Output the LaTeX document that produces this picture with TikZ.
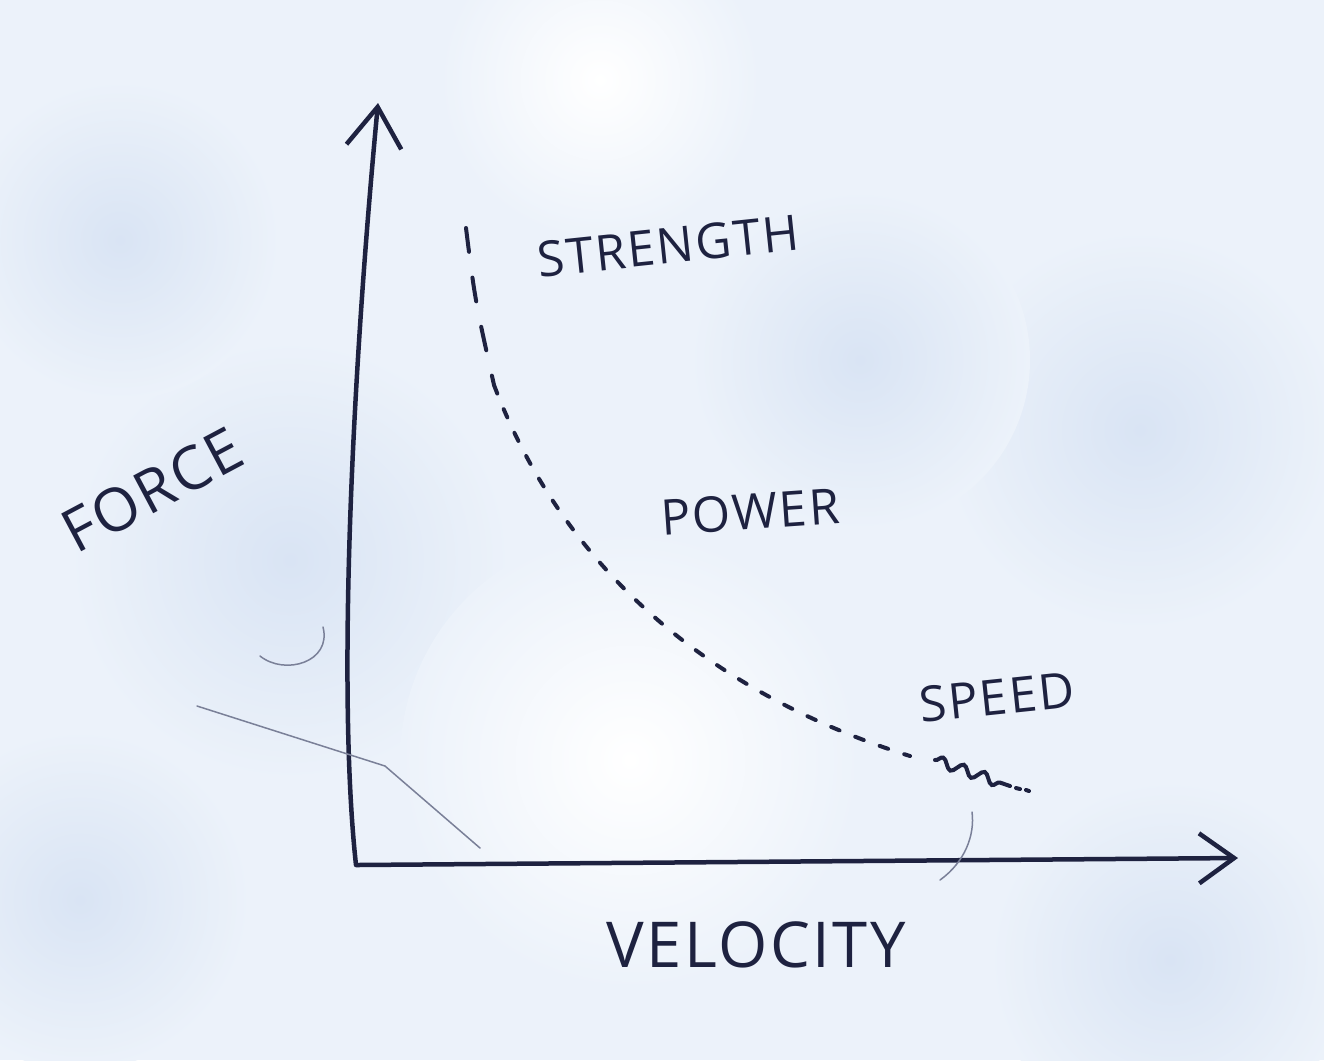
\documentclass[tikz,border=0pt]{standalone}
\usepackage{fontspec}
\newfontfamily\handfont[LetterSpace=4]{Open Sans}
\usetikzlibrary{arrows.meta, decorations.pathmorphing}
\definecolor{ink}{HTML}{1E2240}
\definecolor{paper}{HTML}{ECF2FA}
\definecolor{blotch}{HTML}{D9E4F4}
\definecolor{pencil}{HTML}{7A8098}
\tikzset{
  axis/.style={draw=ink, line width=0.45mm, line cap=round, line join=round},
  word/.style={text=ink, font=\handfont\fontsize{14}{14}\selectfont, inner sep=0pt},
  blot/.style={inner color=blotch, outer color=paper},
  faint/.style={draw=pencil, line width=0.15mm, line cap=round}
}

\begin{document}
\begin{tikzpicture}[x=0.1mm, y=-0.1mm]
\useasboundingbox (0,0) rectangle (1324,1060);
\fill[paper] (0,0) rectangle (1324,1060);
% mottled paper
\shade[blot] (290,560) circle (220);
\shade[blot] (120,240) circle (160);
\shade[blot] (1140,430) circle (200);
\shade[blot] (860,360) circle (170);
\shade[blot] (1170,960) circle (180);
\shade[blot] (80,900) circle (170);
\shade[inner color=white, outer color=paper] (630,760) circle (230);
\shade[inner color=white, outer color=paper] (600,80) circle (160);

% axes
\coordinate (ytop) at (378,103);
\coordinate (origin) at (356,865);
\coordinate (xend) at (1238,858);
\draw[axis, {Straight Barb[length=4mm, width=5.5mm, line width=0.45mm]}-{Straight Barb[length=3.5mm, width=5mm, line width=0.45mm]}]
  (ytop) .. controls (350,400) and (338,700) .. (origin) -- (xend);

% force-velocity curve
\coordinate (c0) at (466,228);
\coordinate (c1) at (494,385);
\coordinate (c2) at (910,756);
\draw[ink, line width=0.4mm, line cap=round, dash pattern=on 2.4mm off 2.6mm]
  (c0) .. controls (475,300) .. (c1);
\draw[ink, line width=0.4mm, line cap=round, dash pattern=on 0.9mm off 1.7mm]
  (c1) .. controls (560,560) and (700,690) .. (c2);
\draw[ink, line width=0.4mm, line cap=round,
      decorate, decoration={snake, amplitude=0.5mm, segment length=2.2mm}]
  (935,760) -- (1010,786);
\draw[ink, line width=0.4mm, line cap=round] (1016,788) -- (1020,789) (1026,790) -- (1029,791);

% labels
\node[word, rotate=6] (strength) at (668,246) {STRENGTH};
\node[word, rotate=28, font=\handfont\fontsize{17}{17}\selectfont] (force) at (152,490) {FORCE};
\node[word, rotate=4] (power) at (750,512) {POWER};
\node[word, rotate=6] (speed) at (997,697) {SPEED};
\node[word, font=\handfont\fontsize{18}{18}\selectfont] (velocity) at (756,945) {VELOCITY};

% stray pen marks
\draw[faint] (260,656) .. controls (285,676) and (332,662) .. (323,627);
\draw[faint] (197,706) -- (385,766) -- (480,848);
\draw[faint] (940,880) .. controls (965,862) and (975,835) .. (972,812);
\end{tikzpicture}
\end{document}
